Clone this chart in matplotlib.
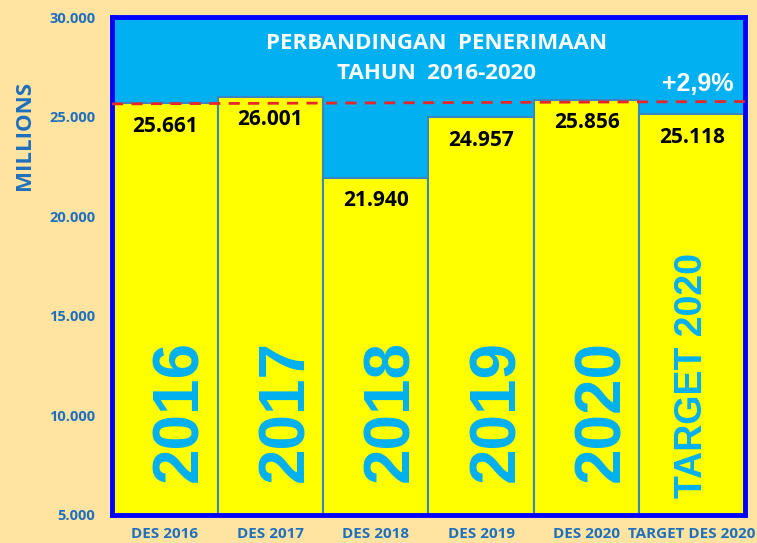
import matplotlib.pyplot as plt

categories = ['DES 2016', 'DES 2017', 'DES 2018', 'DES 2019', 'DES 2020', 'TARGET DES 2020']
values = [25661, 26001, 21940, 24957, 25856, 25118]
value_labels = ['25.661', '26.001', '21.940', '24.957', '25.856', '25.118']
year_labels = ['2016', '2017', '2018', '2019', '2020', 'TARGET 2020']
yticks = [5000, 10000, 15000, 20000, 25000, 30000]
ytick_labels = ['5.000', '10.000', '15.000', '20.000', '25.000', '30.000']
trend = [25640, 25760]

bg = '#FFE4A1'
sky = '#00B0F0'
blue_txt = '#1F6FBF'

fig = plt.figure(figsize=(7.57, 5.43), dpi=100, facecolor=bg)
ax = fig.add_axes([0.148, 0.0516, 0.836, 0.917])
ax.set_facecolor(sky)

x = list(range(len(values)))
ax.bar(x, values, width=1.0, color='#FFFF00', edgecolor='#3A86C0', linewidth=1.5, zorder=2)
ax.plot([-0.5, 5.5], trend, color='#E8262A', linestyle=(0, (4, 3)), linewidth=2, zorder=3)

for i, v in enumerate(values):
    ax.text(i, v - 1150, value_labels[i], ha='center', va='center', fontsize=15,
            fontweight='bold', family='Open Sans', color='black', zorder=4)

for i, t in enumerate(year_labels):
    if i < 5:
        ax.text(i + 0.15, 6650, t, rotation=90, ha='center', va='bottom', fontsize=46,
                fontweight='heavy', family='Liberation Sans', color=sky, zorder=4)
    else:
        ax.text(i, 5850, t, rotation=90, ha='center', va='bottom', fontsize=27,
                fontweight='heavy', family='Liberation Sans', color=sky, zorder=4)

ax.text(2.58, 28650, 'PERBANDINGAN  PENERIMAAN', ha='center', va='center', fontsize=16,
        fontweight='bold', family='Open Sans', color='white')
ax.text(2.58, 27150, 'TAHUN  2016-2020', ha='center', va='center', fontsize=16,
        fontweight='bold', family='Open Sans', color='white')
ax.text(5.05, 26650, '+2,9%', ha='center', va='center', fontsize=18,
        fontweight='bold', family='Liberation Sans', color='white')

ax.set_xlim(-0.5, 5.5)
ax.set_ylim(5000, 30000)
ax.set_yticks(yticks)
ax.set_yticklabels(ytick_labels)
ax.set_xticks(x)
ax.set_xticklabels(categories)
ax.tick_params(axis='x', length=0, pad=9, labelsize=11, labelcolor=blue_txt)
ax.tick_params(axis='y', length=0, pad=12, labelsize=10.5, labelcolor=blue_txt)
for lbl in ax.get_xticklabels() + ax.get_yticklabels():
    lbl.set_fontweight('bold')
    lbl.set_family('Open Sans')
for s in ax.spines.values():
    s.set_color('#0000FF')
    s.set_linewidth(3.5)

fig.text(0.032, 0.75, 'MILLIONS', rotation=90, ha='center', va='center', fontsize=16,
         fontweight='bold', family='Open Sans', color=blue_txt)

fig.savefig('out.png', dpi=100, facecolor=bg)
